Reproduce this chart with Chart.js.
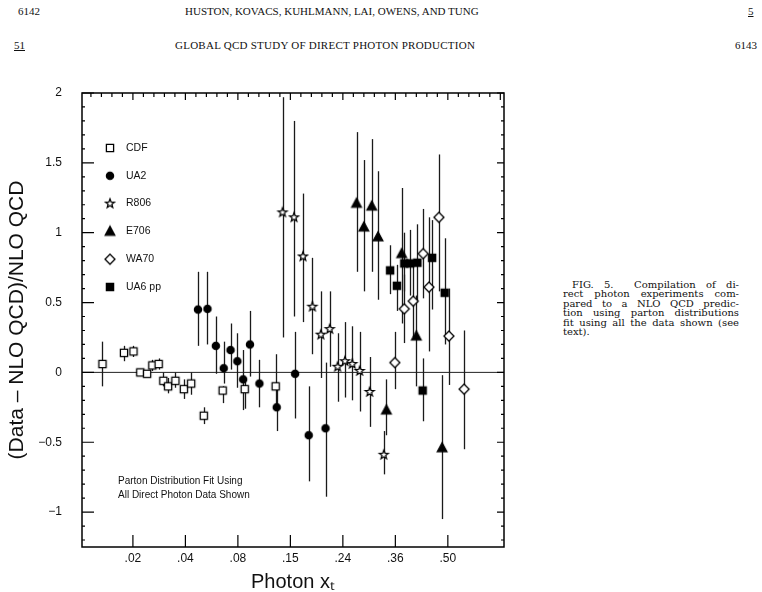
<!DOCTYPE html>
<html>
<head>
<meta charset="utf-8">
<script src="https://cdn.jsdelivr.net/npm/chart.js@4.4.1/dist/chart.umd.min.js"></script>
<style>
  html, body { margin: 0; padding: 0; background: #fff; }
  body { width: 762px; height: 592px; position: relative; overflow: hidden; font-family: "Liberation Serif", "Times New Roman", serif; color: #111; }
  #wrap { position: absolute; left: 0; top: 0; width: 762px; height: 592px; }
  .hd { position: absolute; font-size: 11px; white-space: nowrap; }
  #caption { position: absolute; left: 563px; top: 280px; width: 176px; font-family: "DejaVu Serif", "Liberation Serif", serif; font-size: 10px; line-height: 9.4px; }
  #caption div { text-align: justify; text-align-last: justify; white-space: nowrap; }
  #caption div.last { text-align-last: left; }
</style>
</head>
<body>
<div class="hd" style="left:18px; top:5px">6142</div>
<div class="hd" style="left:185px; top:5px">HUSTON, KOVACS, KUHLMANN, LAI, OWENS, AND TUNG</div>
<div class="hd" style="left:748px; top:5px; text-decoration:underline">5</div>
<div class="hd" style="left:14px; top:39px; text-decoration:underline">51</div>
<div class="hd" style="left:175px; top:39px; letter-spacing:0.25px">GLOBAL QCD STUDY OF DIRECT PHOTON PRODUCTION</div>
<div class="hd" style="left:735px; top:39px">6143</div>
<div id="caption">
  <div style="padding-left:9px">FIG. 5.&nbsp; Compilation of di-</div>
  <div>rect photon experiments com-</div>
  <div>pared to a NLO QCD predic-</div>
  <div>tion using parton distributions</div>
  <div>fit using all the data shown (see</div>
  <div class="last">text).</div>
</div>
<div id="wrap"><canvas id="chart"></canvas></div>
<script>
// eje x: posiciones 1..7 con etiquetas de x_T
const xTickLabels = [".02", ".04", ".08", ".15", ".24", ".36", ".50"]
const yTicks = [-1, -0.5, 0, 0.5, 1, 1.5, 2]

// CDF
const cdfX = [0.42, 0.83, 1.01, 1.14, 1.27, 1.37, 1.49, 1.58, 1.67, 1.81, 1.97, 2.11, 2.35, 2.71, 3.13, 3.72]
const cdfY = [0.06, 0.14, 0.15, 0.0, -0.01, 0.05, 0.06, -0.06, -0.1, -0.06, -0.12, -0.08, -0.31, -0.13, -0.12, -0.1]
const cdfLo = [-0.1, 0.08, 0.11, -0.02, -0.03, 0.01, 0.02, -0.1, -0.15, -0.11, -0.19, -0.16, -0.37, -0.22, -0.26, -0.25]
const cdfHi = [0.22, 0.19, 0.19, 0.02, 0.01, 0.09, 0.1, 0.0, -0.04, 0.0, -0.05, 0.0, -0.25, -0.1, -0.05, 0.13]

// UA2
const ua2X = [2.24, 2.42, 2.58, 2.73, 2.86, 2.99, 3.1, 3.23, 3.41, 3.74, 4.09, 4.35, 4.67]
const ua2Y = [0.45, 0.455, 0.19, 0.03, 0.16, 0.08, -0.05, 0.2, -0.08, -0.25, -0.01, -0.45, -0.4]
const ua2Lo = [0.19, 0.2, -0.01, -0.08, 0.02, -0.11, -0.27, -0.03, -0.25, -0.42, -0.33, -0.78, -0.89]
const ua2Hi = [0.72, 0.72, 0.4, 0.22, 0.35, 0.28, 0.16, 0.44, 0.09, -0.09, 0.29, -0.1, 0.07]

// R806
const r806X = [3.85, 4.07, 4.24, 4.42, 4.58, 4.75, 4.9, 5.04, 5.18, 5.32, 5.51, 5.78]
const r806Y = [1.145, 1.11, 0.83, 0.47, 0.27, 0.31, 0.04, 0.08, 0.06, 0.01, -0.14, -0.59]
const r806Lo = [0.25, 0.4, 0.36, 0.13, -0.04, 0.04, -0.21, -0.18, -0.2, -0.28, -0.39, -0.73]
const r806Hi = [1.97, 1.8, 1.28, 0.82, 0.58, 0.58, 0.28, 0.36, 0.33, 0.29, 0.11, -0.42]

// E706
const e706X = [5.26, 5.4, 5.55, 5.67, 5.83, 6.12, 6.4, 6.89]
const e706Y = [1.21, 1.04, 1.19, 0.97, -0.27, 0.85, 0.26, -0.54]
const e706Lo = [0.72, 0.58, 0.72, 0.52, -0.45, 0.35, -0.1, -1.05]
const e706Hi = [1.72, 1.52, 1.67, 1.44, -0.05, 1.32, 0.55, -0.02]

// WA70
const wa70X = [5.99, 6.17, 6.34, 6.53, 6.64, 6.83, 7.02, 7.31]
const wa70Y = [0.07, 0.455, 0.51, 0.85, 0.61, 1.11, 0.26, -0.12]
const wa70Lo = [-0.12, 0.21, 0.25, 0.53, 0.15, 0.58, -0.09, -0.55]
const wa70Hi = [0.29, 0.7, 0.78, 1.17, 1.11, 1.56, 0.6, 0.3]

// UA6 pp
const ua6X = [5.9, 6.03, 6.17, 6.28, 6.42, 6.52, 6.7, 6.94]
const ua6Y = [0.73, 0.62, 0.78, 0.78, 0.785, -0.13, 0.82, 0.57]
const ua6Lo = [0.56, 0.44, 0.58, 0.55, 0.5, -0.35, 0.45, 0.2]
const ua6Hi = [0.91, 0.77, 1.0, 1.02, 1.06, 0.1, 1.09, 0.96]

// marcadores dibujados en un canvas pequeño
function marker(kind, filled) {
  var s = 14
  var c = document.createElement("canvas")
  c.width = s
  c.height = s
  var g = c.getContext("2d")
  g.translate(s / 2, s / 2)
  g.lineWidth = 1.3
  g.strokeStyle = "#000"
  g.fillStyle = filled ? "#000" : "#fff"
  g.beginPath()
  if (kind === "circle") g.arc(0, 0, 3.6, 0, Math.PI * 2)
  if (kind === "square") g.rect(-3.6, -3.6, 7.2, 7.2)
  if (kind === "triangle") {
    g.moveTo(0, -5.2); g.lineTo(4.8, 3.8); g.lineTo(-4.8, 3.8); g.closePath()
  }
  if (kind === "diamond") {
    g.moveTo(0, -5); g.lineTo(5, 0); g.lineTo(0, 5); g.lineTo(-5, 0); g.closePath()
  }
  if (kind === "star") {
    for (var k = 0; k < 10; k++) {
      var r = k % 2 ? 2.0 : 4.7
      var a = -Math.PI / 2 + (k * Math.PI) / 5
      g.lineTo(r * Math.cos(a), r * Math.sin(a))
    }
    g.closePath()
  }
  g.fill()
  g.stroke()
  return c
}

function serie(label, xs, ys, lo, hi, style) {
  return {
    label: label,
    data: xs.map((x, i) => ({ x: x, y: ys[i] })),
    lo: lo,
    hi: hi,
    pointStyle: style,
    showLine: false,
  }
}

var datasets = [
  serie("CDF", cdfX, cdfY, cdfLo, cdfHi, marker("square", false)),
  serie("UA2", ua2X, ua2Y, ua2Lo, ua2Hi, marker("circle", true)),
  serie("R806", r806X, r806Y, r806Lo, r806Hi, marker("star", false)),
  serie("E706", e706X, e706Y, e706Lo, e706Hi, marker("triangle", true)),
  serie("WA70", wa70X, wa70Y, wa70Lo, wa70Hi, marker("diamond", false)),
  serie("UA6 pp", ua6X, ua6Y, ua6Lo, ua6Hi, marker("square", true)),
]

// barras de error, línea en cero, marco, leyenda y nota
var marco = {
  id: "marco",
  beforeDatasetsDraw(chart) {
    var ctx = chart.ctx
    var a = chart.chartArea
    var x = chart.scales.x
    var y = chart.scales.y
    ctx.save()
    ctx.strokeStyle = "#222"
    ctx.lineWidth = 1
    var y0 = y.getPixelForValue(0)
    ctx.beginPath()
    ctx.moveTo(a.left, y0)
    ctx.lineTo(a.right, y0)
    ctx.stroke()
    ctx.lineWidth = 1.3
    ctx.strokeStyle = "#1a1a1a"
    chart.data.datasets.forEach((ds) => {
      ds.data.forEach((p, i) => {
        var px = Math.round(x.getPixelForValue(p.x)) + 0.5
        ctx.beginPath()
        ctx.moveTo(px, y.getPixelForValue(ds.lo[i]))
        ctx.lineTo(px, y.getPixelForValue(ds.hi[i]))
        ctx.stroke()
      })
    })
    ctx.restore()
  },
  afterDraw(chart) {
    var ctx = chart.ctx
    var a = chart.chartArea
    var x = chart.scales.x
    var y = chart.scales.y
    ctx.save()
    ctx.strokeStyle = "#000"
    ctx.lineWidth = 1.5
    ctx.strokeRect(a.left, a.top, a.right - a.left, a.bottom - a.top)
    ctx.lineWidth = 1.2
    ctx.beginPath()
    // marcas del eje izquierdo y derecho
    for (var v = -12; v <= 20; v++) {
      var py = y.getPixelForValue(v / 10)
      var mayor = v % 5 === 0
      ctx.moveTo(a.left, py); ctx.lineTo(a.left + (mayor ? 12 : 3), py)
      ctx.moveTo(a.right, py); ctx.lineTo(a.right - (mayor ? 7 : 3), py)
    }
    // marcas del eje inferior y superior
    for (var t = 1; t <= 7; t++) {
      var px = x.getPixelForValue(t)
      ctx.moveTo(px, a.bottom); ctx.lineTo(px, a.bottom - 12)
    }
    for (var m = 1; m <= 40; m++) {
      var q = m / 5
      if (q > x.max) break
      var pt = x.getPixelForValue(q)
      ctx.moveTo(pt, a.top); ctx.lineTo(pt, a.top + (m % 5 === 0 ? 7 : 4))
    }
    ctx.stroke()

    // leyenda
    ctx.font = "10.5px 'Liberation Sans', Arial, sans-serif"
    ctx.fillStyle = "#111"
    ctx.textBaseline = "middle"
    chart.data.datasets.forEach((ds, i) => {
      var ly = a.top + 55 + i * 27.8
      var img = ds.pointStyle
      ctx.drawImage(img, a.left + 28 - img.width / 2, ly - img.height / 2)
      ctx.fillText(ds.label, a.left + 44, ly)
    })

    // nota
    ctx.font = "10px 'Liberation Sans', Arial, sans-serif"
    ctx.fillText("Parton Distribution Fit Using", a.left + 36, a.top + 388)
    ctx.fillText("All Direct Photon Data Shown", a.left + 36, a.top + 402)
    ctx.restore()
  },
}

var fuente = "'Liberation Sans', Arial, sans-serif"

new Chart(document.getElementById("chart").getContext("2d"), {
  type: "scatter",
  data: { datasets: datasets },
  options: {
    responsive: true,
    maintainAspectRatio: false,
    animation: false,
    events: [],
    layout: { padding: { top: 93, right: 258, left: 0, bottom: 0 } },
    plugins: {
      legend: { display: false },
      tooltip: { enabled: false },
    },
    scales: {
      x: {
        type: "linear",
        min: 0.03,
        max: 8.07,
        afterFit: (s) => { s.height = 45 },
        afterBuildTicks: (s) => { s.ticks = xTickLabels.map((l, i) => ({ value: i + 1 })) },
        grid: { display: false, drawTicks: false },
        border: { display: false },
        ticks: {
          padding: 4,
          color: "#111",
          font: { family: fuente, size: 12 },
          maxRotation: 0,
          callback: (v) => xTickLabels[Math.round(v) - 1],
        },
        title: {
          display: true,
          text: "Photon x\u209C",
          color: "#111",
          font: { family: fuente, size: 20, lineHeight: 1.0 },
          padding: 0,
        },
      },
      y: {
        type: "linear",
        min: -1.25,
        max: 2,
        afterFit: (s) => { s.width = 82 },
        afterBuildTicks: (s) => { s.ticks = yTicks.map((v) => ({ value: v })) },
        grid: { display: false, drawTicks: false },
        border: { display: false },
        ticks: {
          padding: 20,
          color: "#111",
          font: { family: fuente, size: 12 },
          callback: (v) => String(v).replace("-", "\u2212"),
        },
        title: {
          display: true,
          text: "(Data \u2013 NLO QCD)/NLO QCD",
          color: "#111",
          font: { family: fuente, size: 21 },
          padding: { top: 5, bottom: 0 },
        },
      },
    },
  },
  plugins: [marco],
})
</script>
</body>
</html>
